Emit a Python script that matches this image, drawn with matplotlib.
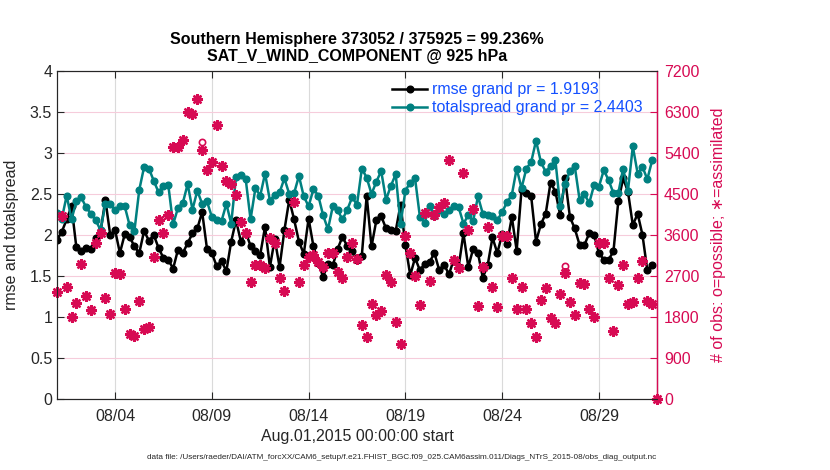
import matplotlib
matplotlib.use('Agg')
import matplotlib.pyplot as plt
import matplotlib.dates as mdates
import numpy as np
import pandas as pd

plt.rcParams['font.family'] = ['Liberation Sans', 'DejaVu Sans']

# 6-hourly bins, Aug 1 00Z .. Sep 1 00Z
times = pd.date_range('2015-08-01 00:00', periods=125, freq='6h')

# rmse (left axis)
rmse = [1.94, 2.04, 2.19, 2.35, 1.85, 1.80, 1.84, 1.83, 1.96, 2.04, 2.43, 2.00, 2.06, 1.78, 2.01, 1.98,
        1.86, 1.78, 2.05, 1.93, 2.00, 1.84, 1.72, 1.70, 1.59, 1.82, 1.78, 1.90, 2.02, 2.08, 2.28, 1.83,
        1.78, 1.62, 1.68, 1.56, 1.92, 2.18, 1.92, 2.03, 1.87, 1.81, 1.76, 2.10, 1.61, 1.95, 1.61, 2.06,
        2.43, 2.19, 1.92, 1.77, 2.20, 1.86, 1.66, 1.49, 1.65, 1.63, 1.83, 1.98, 1.86, 1.80, 1.70, 1.75,
        2.48, 1.86, 2.18, 2.23, 2.08, 2.06, 2.05, 2.37, 1.88, 1.51, 1.72, 1.57, 1.65, 1.67, 1.78, 1.57,
        1.64, 1.52, 1.70, 1.61, 2.02, 1.61, 1.83, 1.78, 1.48, 1.63, 1.97, 1.78, 2.01, 1.89, 2.22, 1.81,
        2.55, 2.51, 2.47, 1.92, 2.13, 2.26, 2.64, 2.53, 2.24, 2.69, 2.22, 2.08, 1.88, 1.88, 2.02, 2.00,
        1.78, 1.70, 1.70, 1.80, 2.41, 2.69, 2.53, 2.12, 2.26, 2.00, 1.57, 1.63, np.nan]

# totalspread (left axis)
spread = [2.27, 2.20, 2.48, 2.19, 2.41, 2.46, 2.34, 2.26, 2.18, 2.06, 2.38, 2.38, 2.30, 2.35, 2.35, 2.12,
          2.05, 2.55, 2.83, 2.81, 2.66, 2.52, 2.60, 2.61, 2.13, 2.33, 2.39, 2.62, 2.31, 2.54, 2.38, 2.41,
          2.22, 2.18, 2.17, 2.38, 2.14, 2.71, 2.73, 2.68, 2.19, 2.57, 2.48, 2.75, 2.42, 2.49, 2.52, 2.69,
          2.50, 2.51, 2.72, 2.47, 2.35, 2.56, 2.48, 2.24, 2.07, 2.35, 2.30, 2.19, 2.31, 2.46, 2.37, 2.81,
          2.70, 2.50, 2.65, 2.78, 2.43, 2.60, 2.74, 2.13, 2.54, 2.64, 2.69, 2.22, 2.15, 2.35, 2.23, 2.30,
          2.26, 2.30, 2.35, 2.34, 2.14, 2.24, 2.17, 2.47, 2.26, 2.24, 2.23, 2.18, 2.28, 2.40, 2.49, 2.81,
          2.57, 2.81, 2.89, 3.15, 2.89, 2.77, 2.84, 2.91, 2.35, 2.62, 2.78, 2.84, 2.43, 2.50, 2.39, 2.61,
          2.59, 2.79, 2.67, 2.51, 2.51, 2.81, 2.54, 3.08, 2.75, 2.83, 2.68, 2.91, np.nan]

# number of observations assimilated (right axis)
obs_assim = [2355, 4017, 2451, 1807, 2114, 2963, 2261, 1954, 3417, 3651, 2210, 1859, 2758, 2744, 1968, 1419,
             1383, 2151, 1529, 1588, 3124, 3929, 3636, 4039, 5524, 5524, 5685, 6306, 6256, 6578, 5466, 5027,
             5210, 6014, 5114, 4792, 4719, 4478, 3892, 3636, 2575, 2941, 2941, 2868, 3527, 3417, 2649, 2371,
             3651, 4331, 2575, 2941, 3124, 3161, 3014, 2905, 3197, 3197, 2795, 2649, 3124, 3431, 3066, 1624,
             1368, 2078, 1844, 1939, 2722, 2575, 1683, 1207, 3578, 3197, 2700, 2063, 4080, 2590, 4039, 4222,
             4310, 5246, 3051, 2868, 4954, 3720, 4163, 2041, 2905, 3770, 2451, 2012, 3580, 3580, 2649, 1968,
             2451, 1968, 1675, 1368, 2173, 2430, 1771, 1661, 2297, 2773, 2136, 1844, 2553, 2524, 1968, 1793,
             3431, 3431, 2649, 1493, 2502, 2941, 2085, 2136, 2649, 3036, 2158, 2085, 0]

# number of observations possible (right axis)
obs_possible = list(obs_assim)
obs_possible[30] = 5640
obs_possible[105] = 2930

rmse_grand = 1.9193
spread_grand = 2.4403

teal = '#008080'
crimson = '#D70A53'
legend_blue = '#1450FF'
axis_col = '#262626'

fig = plt.figure(figsize=(8.3, 4.7), dpi=100)
ax = fig.add_axes([57 / 830, 71 / 470, 600 / 830, 328 / 470])
ax2 = ax.twinx()

l1, = ax.plot(times, rmse, color='black', lw=1.8, marker='o', ms=4.8, label='rmse grand pr = %.4f' % rmse_grand)
l2, = ax.plot(times, spread, color=teal, lw=1.8, marker='o', ms=4.8, label='totalspread grand pr = %.4f' % spread_grand)

ax2.plot(times, obs_possible, ls='none', marker='o', ms=4.5, mfc='none', mec=crimson, mew=1.2, clip_on=False)
ax2.plot(times, obs_assim, ls='none', marker=(8, 2, 0), ms=7.8, color=crimson, mec=crimson, mew=1.7, clip_on=False)
ax2.plot(times, obs_assim, ls='none', marker='o', ms=3.5, color=crimson, mec=crimson, mew=0, clip_on=False)

ax.set_xlim(pd.Timestamp('2015-08-01'), pd.Timestamp('2015-09-01'))
ax.set_ylim(0, 4)
ax.set_yticks(np.arange(0, 4.01, 0.5))
ax.set_yticklabels(['0', '0.5', '1', '1.5', '2', '2.5', '3', '3.5', '4'])
ax2.set_ylim(0, 7200)
ax2.set_yticks(np.arange(0, 7201, 900))

xt = pd.to_datetime(['2015-08-04', '2015-08-09', '2015-08-14', '2015-08-19', '2015-08-24', '2015-08-29'])
ax.set_xticks(xt)
ax.xaxis.set_major_formatter(mdates.DateFormatter('%m/%d'))

ax.set_axisbelow(True)
ax.grid(axis='x', color='#DADADA', lw=0.8)
ax.grid(axis='y', color='#F6CCDB', lw=0.8)

ax.tick_params(axis='both', direction='in', length=5, labelsize=11.5, colors=axis_col, top=True, right=False)
ax.tick_params(axis='x', pad=7)
ax2.tick_params(axis='y', direction='in', length=5, labelsize=11.5, colors=crimson, pad=5)
for s in ['left', 'bottom', 'top']:
    ax.spines[s].set_color(axis_col)
    ax2.spines[s].set_color(axis_col)
ax2.spines['right'].set_color(crimson)
ax2.spines['right'].set_linewidth(1.0)

ax.set_ylabel('rmse and totalspread', fontsize=11.5, color=axis_col, labelpad=8)
ax2.set_ylabel('# of obs: o=possible; \u2217=assimilated', fontsize=11.5, color=crimson, labelpad=8)
ax.set_xlabel('Aug.01,2015 00:00:00 start', fontsize=11.5, color=axis_col, labelpad=4)

ax.set_title('Southern Hemisphere 373052 / 375925 = 99.236%\nSAT_V_WIND_COMPONENT @ 925 hPa',
             fontsize=11.5, fontweight='bold', pad=7, linespacing=1.15)

leg = ax2.legend([l1, l2], [l1.get_label(), l2.get_label()], loc='upper right', frameon=False,
                 fontsize=11.5, handlelength=2.2, handletextpad=0.3, labelspacing=0.2,
                 borderaxespad=0.3, bbox_to_anchor=(0.995, 1.0))
for t in leg.get_texts():
    t.set_color(legend_blue)

fig.text(0.484, 0.027, 'data file: /Users/raeder/DAI/ATM_forcXX/CAM6_setup/f.e21.FHIST_BGC.f09_025.CAM6assim.011/Diags_NTrS_2015-08/obs_diag_output.nc',
         fontsize=5.85, ha='center', va='center', color=axis_col)

fig.savefig('out.png', dpi=100)
